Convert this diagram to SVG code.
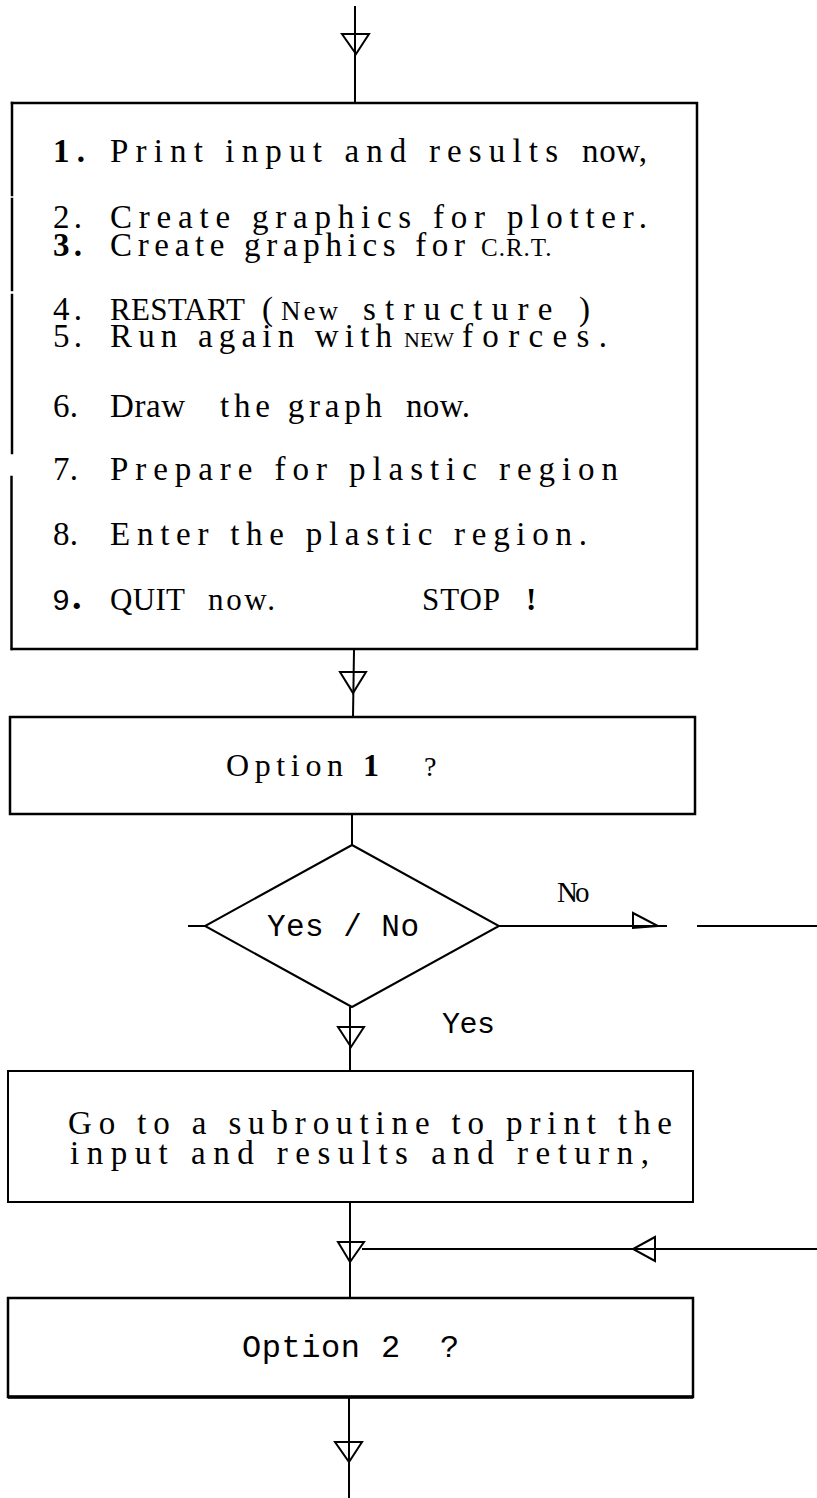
<svg xmlns="http://www.w3.org/2000/svg" width="817" height="1498" viewBox="0 0 817 1498">
  <style>
    .serif { font-family: "Liberation Serif", "Times New Roman", serif; fill: #000; }
    .mono { font-family: "Liberation Mono", "Courier New", monospace; fill: #000; }
    .b { font-weight: bold; }
    .box { fill: none; stroke: #000; stroke-width: 2.5; }
    .edge { fill: none; stroke: #000; stroke-width: 2.5; stroke-linecap: square; }
    .wire { fill: none; stroke: #000; stroke-width: 2; }
    .head { fill: none; stroke: #000; stroke-width: 2; stroke-linejoin: miter; }
  </style>
  <rect width="817" height="1498" fill="#fff"/>

  <!-- menu of options -->
  <g id="menu">
    <polyline class="edge" points="12,103 697,103 697,649 12,649"/>
    <line class="edge" x1="12" y1="103" x2="12" y2="195"/>
    <line class="edge" x1="12" y1="199" x2="12" y2="290"/>
    <line class="edge" x1="12" y1="295" x2="12" y2="453"/>
    <line class="edge" x1="11.5" y1="477" x2="11.5" y2="649"/>
    <g font-size="33">
      <text class="serif b" x="53" y="162" textLength="32">1.</text>
      <text class="serif" x="110" y="162" textLength="448">Print input and results</text>
      <text class="serif" x="582" y="162" textLength="65">now,</text>

      <text class="serif" x="53" y="228" textLength="29">2.</text>
      <text class="serif" x="110" y="228" textLength="537">Create graphics for plotter.</text>

      <text class="serif b" x="53" y="256" textLength="29">3.</text>
      <text class="serif" x="110" y="256" textLength="355">Create graphics for</text>
      <text class="serif" x="481" y="256" font-size="25" letter-spacing="1">C.R.T.</text>

      <text class="serif" x="53" y="320" textLength="29">4.</text>
      <text class="serif" x="110" y="320" font-size="31" textLength="135">RESTART</text>
      <text class="serif" x="262" y="320">(</text>
      <text class="serif" x="281" y="320" font-size="27" letter-spacing="3">New</text>
      <text class="serif" x="363" y="320" textLength="227">structure )</text>

      <text class="serif" x="53" y="347" textLength="29">5.</text>
      <text class="serif" x="110" y="347" textLength="282">Run again with</text>
      <text class="serif" x="404" y="347" font-size="22">NEW</text>
      <text class="serif" x="462" y="347" textLength="145">forces.</text>

      <text class="serif" x="53" y="417" textLength="25">6.</text>
      <text class="serif" x="110" y="417" textLength="75">Draw</text>
      <text class="serif" x="220" y="417" textLength="162">the graph</text>
      <text class="serif" x="406" y="417" textLength="64">now.</text>

      <text class="serif" x="53" y="480" textLength="25">7.</text>
      <text class="serif" x="110" y="480" textLength="508">Prepare for plastic region</text>

      <text class="serif" x="53" y="545" textLength="25">8.</text>
      <text class="serif" x="110" y="545" textLength="477">Enter the plastic region.</text>

      <text class="mono" x="52" y="610" font-size="30">9</text>
      <text class="serif b" x="72" y="609" font-size="38">.</text>
      <text class="serif" x="110" y="610" font-size="31" textLength="75">QUIT</text>
      <text class="serif" x="208" y="610" font-size="31" textLength="67">now.</text>
      <text class="serif" x="422" y="610" font-size="31" textLength="78">STOP</text>
      <text class="serif b" x="526" y="610" font-size="31">!</text>
    </g>
  </g>

  <!-- option 1 test -->
  <g id="option1">
    <rect class="box" x="10" y="717" width="685" height="97"/>
    <text class="serif" x="226" y="776" font-size="32" textLength="117">Option</text>
    <text class="serif b" x="363" y="776" font-size="32">1</text>
    <text class="serif" x="424" y="776" font-size="28">?</text>
  </g>

  <!-- yes / no decision -->
  <g id="decision">
    <polygon class="wire" points="352,845 499,926 352,1007 205,926"/>
    <text class="mono" x="267" y="936" font-size="31" textLength="152">Yes / No</text>
  </g>

  <!-- print subroutine -->
  <g id="subroutine">
    <rect x="8" y="1071" width="685" height="131" fill="none" stroke="#000" stroke-width="2"/>
    <text class="serif" x="68" y="1134" font-size="33" textLength="604">Go to a subroutine to print the</text>
    <text class="serif" x="70" y="1164" font-size="33" textLength="579">input and results and return,</text>
  </g>

  <!-- option 2 test -->
  <g id="option2">
    <rect class="box" x="8" y="1298" width="685" height="99"/>
    <line x1="8" y1="1397" x2="693" y2="1397" stroke="#000" stroke-width="3.5"/>
    <text class="mono" x="242" y="1357" font-size="32" textLength="118">Option</text>
    <text class="mono" x="381" y="1357" font-size="32">2</text>
    <text class="mono" x="440" y="1357" font-size="32">?</text>
  </g>

  <!-- flow lines and arrowheads -->
  <g id="connectors">
    <line class="wire" x1="355" y1="6" x2="355" y2="103"/>
    <polygon class="head" points="342,34 369,34 356,54"/>

    <line class="wire" x1="354" y1="650" x2="353" y2="717"/>
    <polygon class="head" points="340,672 366,672 353,693"/>

    <line class="wire" x1="352" y1="815" x2="352" y2="845"/>

    <line class="wire" x1="350" y1="1007" x2="350" y2="1071"/>
    <polygon class="head" points="338,1027 364,1027 351,1047"/>
    <text class="mono" x="442" y="1033" font-size="30" textLength="53">Yes</text>

    <line class="wire" x1="188" y1="926" x2="205" y2="926"/>
    <line class="wire" x1="499" y1="926" x2="667" y2="926"/>
    <line class="wire" x1="697" y1="926" x2="817" y2="926"/>
    <polygon class="head" points="633,913 658,926 633,928"/>
    <text class="serif" x="557" y="902" font-size="29" letter-spacing="-3">No</text>

    <line class="wire" x1="350" y1="1203" x2="350" y2="1298"/>
    <polygon class="head" points="338,1242 364,1242 350,1262"/>
    <line class="wire" x1="362" y1="1249" x2="817" y2="1249"/>
    <polygon class="head" points="655,1237 633,1249 655,1261"/>

    <line class="wire" x1="349" y1="1398" x2="349" y2="1498"/>
    <polygon class="head" points="335,1442 362,1442 349,1462"/>
  </g>
</svg>
